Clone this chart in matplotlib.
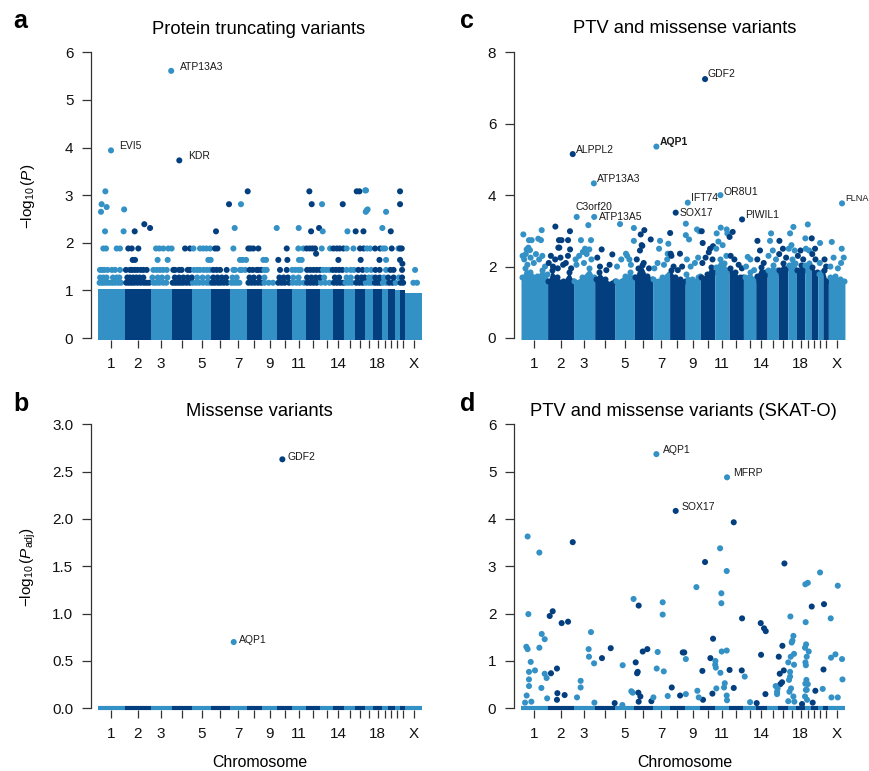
import numpy as np
import matplotlib
matplotlib.use("Agg")
import matplotlib.pyplot as plt

plt.rcParams['font.family'] = ['Liberation Sans', 'DejaVu Sans']
plt.rcParams['mathtext.fontset'] = 'custom'
plt.rcParams['mathtext.rm'] = 'Liberation Sans'
plt.rcParams['mathtext.it'] = 'Liberation Sans:italic'
plt.rcParams['mathtext.bf'] = 'Liberation Sans:bold'

LIGHT = '#3391c6'
DARK = '#033f7f'

# ---------------- chromosomes ----------------
chrom_names = ['1', '2', '3', '4', '5', '6', '7', '8', '9', '10', '11', '12', '13',
               '14', '15', '16', '17', '18', '19', '20', '21', '22', 'X']
chrom_len = [249.3, 243.2, 198.0, 191.2, 180.9, 171.1, 159.1, 146.4, 141.2, 135.5,
             135.0, 133.9, 115.2, 107.3, 102.5, 90.4, 81.2, 78.1, 59.1, 63.0, 48.1,
             51.3, 155.3]
tick_labels = ['1', '2', '3', '', '5', '', '7', '', '9', '', '11', '', '', '14', '',
               '', '', '18', '', '', '', '', 'X']

# ---------------- panel a: protein truncating variants ----------------
ptv_band = [1.02, 1.02, 1.02, 1.02, 1.02, 1.02, 1.02, 1.02, 1.02, 1.02, 1.02, 1.02,
            1.02, 1.02, 1.02, 1.02, 1.02, 1.02, 1.02, 1.02, 1.0, 1.0, 0.95]
ptv_row_levels = [1.16, 1.27, 1.43, 1.64, 1.88]
ptv_row_positions = [
    [15, 38, 60, 85, 110, 135, 160, 190, 215, 265, 290, 315, 340, 370, 400, 430, 455,
     480, 520, 545, 575, 610, 640, 700, 725, 750, 775, 800, 830, 860, 890, 920, 950,
     985, 1020, 1045, 1070, 1095, 1125, 1150, 1180, 1210, 1250, 1275, 1300, 1325, 1410,
     1440, 1470, 1500, 1530, 1560, 1600, 1640, 1690, 1720, 1750, 1790, 1825, 1860,
     1890, 1930, 1960, 1990, 2020, 2050, 2090, 2130, 2170, 2210, 2240, 2270, 2300,
     2320, 2350, 2380, 2420, 2450, 2480, 2510, 2540, 2565, 2595, 2620, 2645, 2670,
     2700, 2730, 2760, 2790, 2835, 2860, 2956, 2990],
    [20, 50, 80, 140, 175, 200, 275, 300, 330, 360, 390, 425, 510, 560, 600, 650, 720,
     760, 800, 840, 880, 930, 980, 1030, 1080, 1120, 1160, 1200, 1260, 1300, 1420,
     1460, 1510, 1560, 1700, 1740, 1780, 1830, 1880, 1960, 2000, 2040, 2080, 2120,
     2220, 2260, 2330, 2370, 2430, 2470, 2500, 2540, 2570, 2600, 2640, 2680, 2720,
     2770, 2820, 2850],
    [19, 40, 60, 90, 130, 160, 206, 262, 300, 320, 345, 370, 400, 425, 456, 519, 550,
     580, 610, 644, 706, 722, 760, 784, 841, 862, 900, 930, 956, 990, 1020, 1050,
     1081, 1112, 1144, 1206, 1269, 1284, 1331, 1347, 1380, 1420, 1450, 1487, 1503,
     1530, 1560, 1581, 1706, 1769, 1820, 1850, 1880, 1900, 1960, 1990, 2020, 2050,
     2080, 2110, 2140, 2170, 2200, 2230, 2260, 2290, 2330, 2370, 2400, 2440, 2480,
     2520, 2560, 2600, 2640, 2700, 2740, 2770, 2850, 2972],
    [325, 347, 559, 653, 1034, 1056, 1331, 1356, 1388, 1550, 1575, 1690, 1775, 1884,
     1909, 2253, 2462, 2638, 2700, 2831],
    [50, 75, 175, 206, 284, 316, 378, 544, 575, 612, 659, 690, 816, 862, 894, 956, 985,
     1015, 1050, 1097, 1119, 1269, 1409, 1430, 1456, 1503, 1769, 1878, 1925, 1956,
     1985, 2010, 2034, 2097, 2175, 2206, 2238, 2265, 2300, 2331, 2394, 2456, 2490,
     2520, 2550, 2597, 2644, 2670, 2691, 2753, 2816, 2830, 2847],
]
ptv_top_pos = [69, 34, 81, 28, 66, 245, 240, 344, 434, 488, 1106, 1228, 1281, 1340,
               1403, 1675, 1881, 1981, 2003, 1997, 2072, 2106, 2100, 2294, 2338, 2415,
               2425, 2450, 2505, 2512, 2488, 2510, 2519, 2527, 2665, 2700, 2744, 2831,
               2831, 2044, 2853]
ptv_top_val = [3.08, 2.81, 2.75, 2.65, 2.24, 2.70, 2.24, 2.24, 2.39, 2.31, 2.24, 2.81,
               2.31, 2.81, 3.08, 2.31, 2.31, 3.08, 2.81, 2.24, 2.31, 2.24, 2.81, 2.81,
               2.24, 2.24, 3.08, 3.08, 3.10, 3.10, 2.24, 2.65, 2.68, 2.70, 2.31, 2.65,
               2.24, 3.08, 2.81, 1.77, 1.56]
ptv_genes = ['EVI5', 'ATP13A3', 'KDR']
ptv_gene_pos = [122, 686, 762]
ptv_gene_val = [3.94, 5.61, 3.73]

# ---------------- panel b: missense variants ----------------
mis_genes = ['GDF2', 'AQP1']
mis_gene_pos = [1728, 1272]
mis_gene_val = [2.63, 0.70]

# ---------------- panel c: PTV and missense variants ----------------
comb_env_pos = [
    [10, 37, 84, 147, 194, 240],
    [255, 287, 334, 397, 453, 488],
    [500, 569, 641, 686],
    [700, 734, 787, 850, 878],
    [890, 975, 1022, 1058],
    [1069, 1100, 1131, 1178, 1228],
    [1240, 1319, 1366, 1387],
    [1403, 1444, 1491, 1533],
    [1547, 1600, 1662, 1675],
    [1690, 1741, 1778, 1809],
    [1828, 1866, 1903, 1944],
    [1959, 2006, 2053, 2080],
    [2095, 2147, 2194],
    [2209, 2247, 2288, 2302],
    [2319, 2359, 2397, 2405],
    [2422, 2453, 2491],
    [2509, 2541, 2572],
    [2591, 2625, 2653],
    [2665, 2700, 2714],
    [2730, 2770],
    [2795, 2820],
    [2840, 2870],
    [2895, 2940, 2990, 3030],
]
comb_env_val = [
    [1.7, 1.95, 1.85, 1.75, 1.9, 1.8],
    [1.6, 1.9, 1.7, 1.6, 1.85, 1.6],
    [1.6, 1.7, 1.95, 1.7],
    [1.65, 1.85, 1.65, 1.55, 1.6],
    [1.6, 1.75, 1.85, 1.7],
    [1.7, 1.95, 2.05, 1.75, 1.65],
    [1.65, 1.7, 1.75, 1.8],
    [1.9, 1.7, 1.65, 1.6],
    [1.8, 1.65, 1.7, 1.75],
    [1.7, 1.8, 2.0, 1.85],
    [2.0, 2.2, 2.1, 1.9],
    [1.95, 1.85, 1.7, 1.7],
    [1.7, 1.85, 1.65],
    [1.75, 2.0, 1.85, 1.8],
    [1.9, 2.05, 1.9, 1.85],
    [1.9, 2.1, 1.95],
    [2.05, 2.2, 2.1],
    [1.9, 2.05, 1.9],
    [2.05, 2.1, 2.0],
    [2.0, 1.85],
    [1.8, 1.85],
    [1.9, 1.6],
    [1.7, 1.75, 1.65, 1.6],
]
comb_pt_pos = [22, 69, 84, 100, 75, 194, 187, 162, 53, 322, 356, 380, 441, 459, 350,
               359, 460, 562, 631, 656, 600, 512, 580, 640, 756, 856, 928, 984, 1016,
               1058, 1058, 1122, 1156, 1137, 1131, 1216, 1303, 1294, 1381, 1375, 1398,
               1403, 1490, 1545, 1545, 1575, 1650, 1672, 1694, 1703, 1800, 1772, 1834,
               1872, 1928, 1934, 1955, 1984, 2125, 2216, 2334, 2344, 2422, 2522, 2553,
               2665, 2688, 2725, 2756, 2803, 2913, 3006,
               15, 30, 45, 60, 90, 120, 140, 170, 200, 225, 260, 280, 300, 320, 345,
               370, 395, 420, 440, 470, 520, 545, 590, 615, 660, 715, 740, 800, 830,
               900, 940, 995, 1030, 1085, 1115, 1150, 1200, 1250, 1280, 1340, 1370,
               1410, 1430, 1470, 1510, 1555, 1590, 1630, 1660, 1700, 1730, 1760, 1795,
               1830, 1850, 1890, 1925, 1965, 2000, 2040, 2070, 2110, 2150, 2185, 2215,
               2240, 2275, 2320, 2360, 2390, 2420, 2455, 2485, 2510, 2535, 2565, 2595,
               2620, 2645, 2670, 2700, 2730, 2760, 2800, 2845, 2860, 2900, 2930, 2970,
               3000, 3025]
comb_pt_val = [2.90, 2.53, 2.46, 2.74, 2.74, 3.02, 2.74, 2.78, 2.48, 3.12, 2.74, 2.74,
               2.74, 2.99, 2.53, 2.53, 2.48, 2.74, 3.16, 2.74, 2.50, 2.20, 2.41, 2.48,
               2.48, 2.34, 3.19, 2.36, 2.20, 3.08, 2.72, 2.90, 3.02, 2.58, 2.60, 2.76,
               2.72, 2.50, 2.64, 2.36, 2.94, 2.36, 2.36, 3.20, 2.88, 2.76, 3.04, 2.99,
               2.99, 2.66, 2.57, 2.50, 2.93, 3.09, 3.04, 2.93, 2.83, 2.97, 2.27, 2.72,
               2.72, 2.93, 2.72, 2.93, 3.11, 2.79, 3.18, 2.79, 2.50, 2.66, 2.69, 2.50,
               2.30, 2.20, 2.35, 2.05, 2.25, 2.10, 2.35, 2.20, 2.30, 2.00, 2.10, 2.30,
               2.00, 2.20, 1.95, 2.25, 2.05, 2.10, 2.30, 1.95, 2.05, 2.30, 2.10, 2.35,
               2.20, 2.25, 2.00, 1.90, 2.05, 2.00, 2.20, 2.30, 2.05, 2.20, 2.45, 2.10,
               1.95, 1.95, 2.10, 2.05, 2.20, 2.30, 2.00, 1.90, 2.00, 2.20, 2.00, 2.10,
               2.25, 2.10, 2.25, 2.40, 2.20, 2.50, 2.70, 2.60, 2.30, 2.30, 2.20, 2.05,
               1.95, 2.00, 2.20, 1.90, 2.20, 2.45, 2.10, 2.30, 2.45, 2.20, 2.35, 2.50,
               2.25, 2.50, 2.60, 2.45, 2.30, 2.45, 2.20, 2.50, 2.45, 2.35, 2.20, 2.10,
               2.20, 2.00, 2.00, 2.25, 1.95, 2.10, 2.25]
comb_genes = ['GDF2', 'ALPPL2', 'AQP1', 'ATP13A3', 'C3orf20', 'ATP13A5', 'SOX17',
              'IFT74', 'OR8U1', 'PIWIL1', 'FLNA']
comb_gene_pos = [1725, 485, 1269, 683, 522, 686, 1450, 1563, 1869, 2072, 3009]
comb_gene_val = [7.25, 5.15, 5.36, 4.33, 3.39, 3.39, 3.51, 3.79, 4.00, 3.32, 3.77]

# ---------------- panel d: SKAT-O ----------------
skat_pos = [62, 172, 485, 69, 297, 269, 381, 441, 656, 194, 222, 50, 62, 172, 634, 637,
            841, 759, 685, 91, 953, 1141, 1184, 1055, 1103, 1281, 1328, 1328, 1272,
            1338, 1075, 1088, 1094, 75, 131, 75, 75, 222, 240, 191, 53, 38, 97, 281,
            337, 341, 337, 409, 245, 559, 559, 525, 688, 878, 950, 1034, 1047, 1100,
            1119, 1103, 1222, 1241, 1375, 1413,
            1491, 1516, 1530, 1545, 1545, 1994, 1866, 1725, 2469, 1928, 2803, 2665,
            2688, 2969, 1644, 1878, 1878, 2840, 2725, 2072, 2247, 2525, 2903, 2668,
            2278, 2294, 1800, 2553, 2544, 2537, 2672, 2662, 2450, 1881, 1928, 2250,
            2559, 2528, 2697, 2678, 2947, 2906, 3009, 1775, 1822, 1820, 1826, 2416,
            2505, 2559, 2666, 2670, 1955, 1700, 2069, 2097, 1869, 2835, 3013, 2425,
            2463, 2522, 2522, 2512, 2675, 2688, 2665, 2447, 2431, 2387, 2405, 2400,
            2400, 2531, 2516, 2553, 2562, 2505, 2670, 2678, 2662, 2681, 2634, 2734,
            2759, 2828, 2910, 2969, 2291, 2209, 2147, 1994, 1794, 1706, 1831, 1903,
            1928, 1931, 1910, 1653, 1666]
skat_val = [3.63, 3.29, 3.51, 1.99, 2.05, 1.95, 1.80, 1.83, 1.61, 1.57, 1.46, 1.30,
            1.25, 1.28, 1.25, 1.09, 1.27, 1.06, 0.95, 0.98, 0.91, 1.20, 1.25, 2.31,
            2.17, 1.19, 2.24, 1.98, 0.84, 0.78, 0.97, 0.74, 0.77, 0.77, 0.80, 0.61,
            0.47, 0.73, 0.64, 0.43, 0.27, 0.12, 0.14, 0.74, 0.84, 0.32, 0.18, 0.28,
            0.21, 0.58, 0.44, 0.23, 0.12, 0.11, 0.07, 0.36, 0.33, 0.33, 0.25, 0.14,
            0.15, 0.23, 0.26, 0.44,
            0.27, 1.18, 1.18, 1.04, 0.30, 3.93, 3.38, 3.09, 3.06, 2.90, 2.87, 2.62,
            2.65, 2.59, 2.56, 2.43, 2.22, 2.20, 2.15, 1.90, 1.80, 1.94, 1.90, 1.82,
            1.69, 1.63, 1.47, 1.53, 1.43, 1.39, 1.35, 1.28, 1.32, 1.20, 1.22, 1.13,
            1.15, 1.09, 1.20, 1.09, 1.14, 1.07, 1.04, 1.06, 1.00, 0.92, 0.86, 1.09,
            0.97, 0.92, 0.97, 0.91, 0.81, 0.79, 0.80, 0.67, 0.75, 0.82, 0.61, 0.73,
            0.80, 0.77, 0.67, 0.60, 0.60, 0.51, 0.52, 0.55, 0.51, 0.47, 0.42, 0.35,
            0.30, 0.42, 0.35, 0.25, 0.14, 0.15, 0.39, 0.39, 0.25, 0.18, 0.09, 0.12,
            0.37, 0.41, 0.23, 0.23, 0.30, 0.11, 0.13, 0.43, 0.31, 0.18, 0.42, 0.44,
            0.27, 0.17, 0.53, 0.37, 0.23]
skat_genes = ['AQP1', 'MFRP', 'SOX17']
skat_gene_pos = [1269, 1931, 1450]
skat_gene_val = [5.37, 4.88, 4.17]

# ---------------- helpers ----------------
chrom_len_a = np.array(chrom_len)
cum_start = np.concatenate([[0.0], np.cumsum(chrom_len_a)[:-1]])
cum_end = cum_start + chrom_len_a
chrom_mid = (cum_start + cum_end) / 2.0
chrom_cols = [LIGHT if i % 2 == 0 else DARK for i in range(len(chrom_names))]


def colours_for(pos):
    idx = np.clip(np.searchsorted(cum_end, np.asarray(pos, float), side='right'), 0,
                  len(chrom_names) - 1)
    return [chrom_cols[i] for i in idx]


W, H = 870, 771
fig = plt.figure(figsize=(W / 100, H / 100), dpi=100)
MS = 19


def make_axes(left, top, right, bottom):
    return fig.add_axes([left / W, 1 - bottom / H, (right - left) / W, (bottom - top) / H])


def style(ax, ymax, ystep, ppu, fmt):
    ax.set_xlim(-65.6, 3093)
    ax.set_ylim(-2.0 / ppu, ymax)
    for s in ['top', 'right', 'bottom']:
        ax.spines[s].set_visible(False)
    ax.spines['left'].set_bounds(0, ymax)
    ax.spines['left'].set_linewidth(0.9)
    ax.spines['left'].set_color('#333333')
    yt = np.arange(0, ymax + 1e-9, ystep)
    ax.set_yticks(yt)
    ax.set_yticklabels([fmt.format(v) for v in yt])
    ax.set_xticks(chrom_mid)
    ax.set_xticklabels(tick_labels)
    ax.tick_params(axis='y', length=6.7, width=0.9, pad=6, labelsize=11,
                   color='#333333', labelcolor='#111111')
    ax.tick_params(axis='x', length=6.0, width=0.9, pad=6, labelsize=11,
                   color='#333333', labelcolor='#111111')
    ax.patch.set_alpha(0)


def scatter(ax, pos, val):
    ax.scatter(pos, val, s=MS, c=colours_for(pos), linewidths=0, clip_on=False, zorder=3)


def label(ax, x, y, text, dx, dy, bold=False, size=7.5):
    ax.annotate(text, (x, y), xytext=(dx, dy), textcoords='offset points', fontsize=size,
                ha='left', va='center', color='#1a1a1a',
                fontweight='bold' if bold else 'normal', annotation_clip=False)


def baseline(ax):
    ax.hlines(np.zeros(len(chrom_names)), cum_start, cum_end, colors=chrom_cols,
              linewidth=3.0, clip_on=False, zorder=2)


# ---------------- panel a ----------------
axA = make_axes(91, 52.3, 428, 340)
style(axA, 6, 1, 47.62, '{:.0f}')
off = 2.5 / 47.62
axA.bar(cum_start, np.array(ptv_band) + off, width=chrom_len_a, bottom=-off, align='edge',
        color=chrom_cols, linewidth=0, clip_on=False, zorder=2)
for lvl, pos in zip(ptv_row_levels, ptv_row_positions):
    scatter(axA, pos, [lvl] * len(pos))
scatter(axA, ptv_top_pos, ptv_top_val)
scatter(axA, ptv_gene_pos, ptv_gene_val)
for g, x, y in zip(ptv_genes, ptv_gene_pos, ptv_gene_val):
    label(axA, x, y, g, 6, 3)

# ---------------- panel b ----------------
axB = make_axes(91, 424.3, 428, 710.3)
style(axB, 3, 0.5, 94.67, '{:.1f}')
baseline(axB)
scatter(axB, mis_gene_pos, mis_gene_val)
for g, x, y in zip(mis_genes, mis_gene_pos, mis_gene_val):
    label(axB, x, y, g, 3.5, 1.5)

# ---------------- panel c ----------------
axC = make_axes(514, 52.3, 851, 340)
style(axC, 8, 2, 35.68, '{:.0f}')
offc = 1.5 / 35.68
for i in range(len(chrom_names)):
    xs = [cum_start[i]] + list(comb_env_pos[i]) + [cum_end[i]]
    hs = [comb_env_val[i][0]] + list(comb_env_val[i]) + [comb_env_val[i][-1]]
    axC.fill_between(xs, -offc, hs, color=chrom_cols[i], linewidth=0, clip_on=False,
                     zorder=2)
    axC.scatter(comb_env_pos[i], comb_env_val[i], s=MS, color=chrom_cols[i],
                linewidths=0, zorder=2)
scatter(axC, comb_pt_pos, comb_pt_val)
scatter(axC, comb_gene_pos, comb_gene_val)
comb_offsets = {'GDF2': (2, 3.5), 'ALPPL2': (2.5, 3), 'AQP1': (2.5, 3),
                'ATP13A3': (2.5, 3), 'C3orf20': (-1, 7.5), 'ATP13A5': (3.5, 0),
                'SOX17': (3, 0), 'IFT74': (2, 3.5), 'OR8U1': (2.5, 2.5),
                'PIWIL1': (2.5, 3), 'FLNA': (2.5, 3.5)}
for g, x, y in zip(comb_genes, comb_gene_pos, comb_gene_val):
    dx, dy = comb_offsets[g]
    label(axC, x, y, g, dx, dy, bold=(g == 'AQP1'), size=(6.6 if g == 'FLNA' else 7.5))

# ---------------- panel d ----------------
axD = make_axes(514, 424.3, 851, 710.3)
style(axD, 6, 1, 47.33, '{:.0f}')
baseline(axD)
scatter(axD, skat_pos, skat_val)
scatter(axD, skat_gene_pos, skat_gene_val)
for g, x, y in zip(skat_genes, skat_gene_pos, skat_gene_val):
    label(axD, x, y, g, 4.5, 3)

# ---------------- text ----------------
def ftext(x, y, s, **kw):
    fig.text(x / W, 1 - y / H, s, **kw)


ftext(259, 34, 'Protein truncating variants', ha='center', va='baseline', fontsize=13.2)
ftext(685, 33, 'PTV and missense variants', ha='center', va='baseline', fontsize=13.2)
ftext(259, 416, 'Missense variants', ha='center', va='baseline', fontsize=13.2)
ftext(683, 416, 'PTV and missense variants (SKAT-O)', ha='center', va='baseline',
      fontsize=13.2)
for letter, x, y in [('a', 13, 28), ('c', 460, 28), ('b', 13, 411), ('d', 460, 411)]:
    ftext(x, y, letter, ha='left', va='baseline', fontsize=18, fontweight='bold')
ftext(28, 196, r'$-\mathrm{log}_{10}\,(P)$', rotation=90, ha='center', va='center',
      fontsize=11)
ftext(28, 567, r'$-\mathrm{log}_{10}\,(P_{\mathrm{adj}})$', rotation=90, ha='center',
      va='center', fontsize=11)
ftext(260, 767, 'Chromosome', ha='center', va='baseline', fontsize=11.4)
ftext(685, 767, 'Chromosome', ha='center', va='baseline', fontsize=11.4)

fig.savefig('out.png', dpi=100)
